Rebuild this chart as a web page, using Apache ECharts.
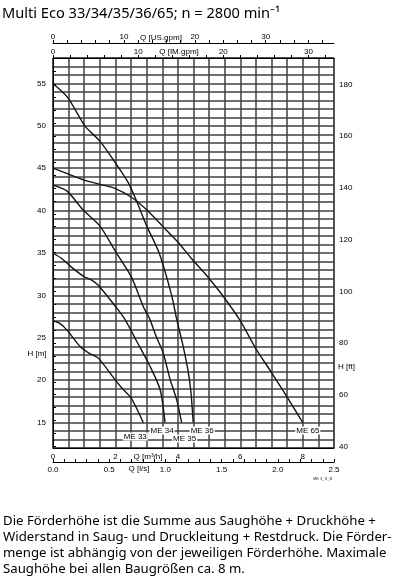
<!DOCTYPE html>
<html>
<head>
<meta charset="utf-8">
<script src="https://cdn.jsdelivr.net/npm/echarts@6/dist/echarts.min.js"></script>
<style>
  html, body { margin: 0; padding: 0; background: #fff; }
  #pumpChart { width: 399px; height: 583px; }
</style>
</head>
<body>
<div id="pumpChart"></div>
<script>
// pump curves, Q [m3/h] vs H [m]
const ME33 = [[0, 27], [0.22, 26.7], [0.45, 25.9], [0.86, 24.0], [1.15, 23.2], [1.45, 22.6],
  [1.98, 20.1], [2.2, 19.1], [2.5, 17.9], [2.89, 15]];
const ME34 = [[0, 35], [0.3, 34.3], [0.6, 33.3], [1.0, 32.2], [1.2, 31.9], [1.45, 31.2],
  [2.0, 28.7], [2.3, 27.2], [2.65, 24.8], [3.1, 21.7], [3.43, 18.9], [3.59, 15]];
const ME35 = [[0, 43], [0.45, 42.3], [0.96, 40.1], [1.5, 38.2], [2.0, 35.2], [2.52, 32.1],
  [2.89, 28.7], [3.1, 27.2], [3.3, 25.2], [3.53, 23.2], [3.75, 20.1], [3.96, 17.7], [4.12, 15]];
const ME36 = [[0, 55], [0.48, 53.3], [1.02, 50], [1.5, 48.2], [1.95, 45.9], [2.41, 43.3],
  [2.68, 41.1], [3.0, 38.2], [3.4, 35.0], [3.8, 30.0], [3.96, 27.2], [4.15, 24.3],
  [4.33, 21.0], [4.42, 18.5], [4.49, 15]];
const ME65 = [[0, 45], [0.5, 44.3], [1.0, 43.6], [1.5, 43.1], [2.0, 42.6], [2.5, 41.6],
  [3.0, 40.1], [3.5, 38.2], [4.0, 36.3], [4.4, 34.5], [5.0, 32.0], [5.45, 29.9], [6.0, 27.0],
  [6.5, 23.7], [7.0, 20.9], [7.5, 18.0], [8.0, 15.0]];
const curveNames = ['ME 33', 'ME 34', 'ME 35', 'ME 36', 'ME 65'];

// axis ticks / labels
const m3hLabels = [0, 2, 4, 6, 8];
const hmLabels = [15, 20, 25, 30, 35, 40, 45, 50, 55];
const lsTicks = [0, 0.1, 0.2, 0.3, 0.4, 0.5, 0.6, 0.7, 0.8, 0.9, 1.0, 1.1, 1.2, 1.3, 1.4,
  1.5, 1.6, 1.7, 1.8, 1.9, 2.0, 2.1, 2.2, 2.3, 2.4, 2.5];
const lsLabels = [0, 0.5, 1.0, 1.5, 2.0, 2.5];
const imGpmTicks = [0, 2, 4, 6, 8, 10, 12, 14, 16, 18, 20, 22, 24, 26, 28, 30, 32];
const imGpmLabels = [0, 10, 20, 30];
const usGpmTicks = [0, 2, 4, 6, 8, 10, 12, 14, 16, 18, 20, 22, 24, 26, 28, 30, 32, 34, 36, 38];
const usGpmLabels = [0, 10, 20, 30];
const ftTicks = [40, 45, 50, 55, 60, 65, 70, 75, 80, 85, 90, 95, 100, 105, 110, 115, 120,
  125, 130, 135, 140, 145, 150, 155, 160, 165, 170, 175, 180, 185, 190];
const ftLabels = [40, 60, 80, 100, 120, 140, 160, 180];

const FT_PER_M = 3.28084;
const USGPM_PER_M3H = 4.40287;
const IMGPM_PER_M3H = 3.66615;
const LS_PER_M3H = 1 / 3.6;
const Q_MAX = 9, H_MIN = 12, H_MAX = 58;

const tickFont = { fontFamily: 'Liberation Sans', fontSize: 8, color: '#000' };
const blackLine = { show: true, lineStyle: { color: '#000', width: 1 } };
const gridLine = { show: true, lineStyle: { color: '#404040', width: 1.5 } };

// where the curve name sits relative to the curve end
const labelOffsets = [[-8, 14], [-3, 8], [3, 16], [9, 8], [5, 8]];

function smallText(text, x, y, align) {
  return {
    type: 'text', x: x, y: y, silent: true,
    style: {
      text: text, fill: '#000', font: '8px "Liberation Sans"',
      align: align || 'center', textAlign: align || 'center',
      verticalAlign: 'middle', textVerticalAlign: 'middle'
    }
  };
}

const series = [ME33, ME34, ME35, ME36, ME65].map(function (pts, k) {
  return {
    name: curveNames[k],
    type: 'line',
    xAxisIndex: 0,
    yAxisIndex: 0,
    smooth: 0.25,
    symbol: 'circle',
    symbolSize: 1,
    showSymbol: true,
    itemStyle: { color: 'rgba(0,0,0,0)' },
    lineStyle: { color: '#151515', width: 1.4 },
    data: pts.map(function (p, i) {
      if (i !== pts.length - 1) return p;
      return {
        value: p,
        label: {
          show: true, position: 'inside', formatter: curveNames[k],
          offset: labelOffsets[k], backgroundColor: '#fff', padding: [0, 1],
          fontFamily: 'Liberation Sans', fontSize: 8, color: '#000'
        }
      };
    })
  };
});

const option = {
  animation: false,
  title: {
    text: 'Multi Eco 33/34/35/36/65; n = 2800 min\u207B\u00B9',
    left: 2, top: 6, padding: 0,
    textStyle: { fontFamily: 'Noto Sans', fontSize: 14.6, fontWeight: 'normal', color: '#000' }
  },
  grid: { left: 53, top: 58, width: 281, height: 390, show: true, borderColor: '#000', borderWidth: 1 },
  xAxis: [
    {
      type: 'value', position: 'bottom', min: 0, max: Q_MAX, interval: 0.5,
      axisLine: blackLine, axisTick: { show: false },
      axisLabel: Object.assign({ margin: 5, formatter: function (v) { return m3hLabels.indexOf(v) >= 0 ? String(v) : ''; } }, tickFont),
      splitLine: gridLine
    },
    {
      type: 'value', position: 'bottom', offset: 14, min: 0, max: Q_MAX * LS_PER_M3H,
      axisLine: blackLine,
      axisTick: { show: true, inside: true, length: 3, customValues: lsTicks, lineStyle: { color: '#000' } },
      axisLabel: Object.assign({ margin: 4, customValues: lsLabels, formatter: function (v) { return v.toFixed(1); } }, tickFont),
      splitLine: { show: false }
    },
    {
      type: 'value', position: 'top', min: 0, max: Q_MAX * IMGPM_PER_M3H,
      axisLine: blackLine,
      axisTick: { show: true, length: 3, customValues: imGpmTicks, lineStyle: { color: '#000' } },
      axisLabel: Object.assign({ margin: 2, customValues: imGpmLabels }, tickFont),
      splitLine: { show: false }
    },
    {
      type: 'value', position: 'top', offset: 15, min: 0, max: Q_MAX * USGPM_PER_M3H,
      axisLine: blackLine,
      axisTick: { show: true, length: 3, customValues: usGpmTicks, lineStyle: { color: '#000' } },
      axisLabel: Object.assign({ margin: 2, customValues: usGpmLabels }, tickFont),
      splitLine: { show: false }
    }
  ],
  yAxis: [
    {
      type: 'value', position: 'left', min: H_MIN, max: H_MAX, interval: 1,
      axisLine: blackLine, axisTick: { show: false },
      axisLabel: Object.assign({ margin: 7, formatter: function (v) { return hmLabels.indexOf(v) >= 0 ? String(v) : ''; } }, tickFont),
      splitLine: gridLine
    },
    {
      type: 'value', position: 'right', min: H_MIN * FT_PER_M, max: H_MAX * FT_PER_M,
      axisLine: blackLine,
      axisTick: { show: true, length: 3, customValues: ftTicks, lineStyle: { color: '#000' } },
      axisLabel: Object.assign({ margin: 5, customValues: ftLabels }, tickFont),
      splitLine: { show: false }
    }
  ],
  graphic: [
    smallText('Q [US.gpm]', 161, 38),
    smallText('Q [IM.gpm]', 179, 52),
    smallText('Q [m\u00B3/h]', 148, 457),
    smallText('Q [l/s]', 139, 469),
    smallText('H [m]', 37, 354),
    smallText('H [ft]', 338, 367, 'left'),
    {
      type: 'text', x: 313, y: 477, silent: true,
      style: { text: 'ME 3_S_B', fill: '#333', font: '4px "Liberation Sans"' }
    },
    {
      type: 'text', x: 3, y: 513, silent: true,
      style: {
        text: 'Die Förderhöhe ist die Summe aus Saughöhe + Druckhöhe +\n' +
          'Widerstand in Saug- und Druckleitung + Restdruck. Die Förder-\n' +
          'menge ist abhängig von der jeweiligen Förderhöhe. Maximale\n' +
          'Saughöhe bei allen Baugrößen ca. 8 m.',
        fill: '#000', font: '13.2px "Noto Sans"', lineHeight: 16
      }
    }
  ],
  series: series
};

const pumpChart = echarts.init(document.getElementById('pumpChart'), null, { renderer: 'canvas' });
pumpChart.setOption(option);
</script>
</body>
</html>
